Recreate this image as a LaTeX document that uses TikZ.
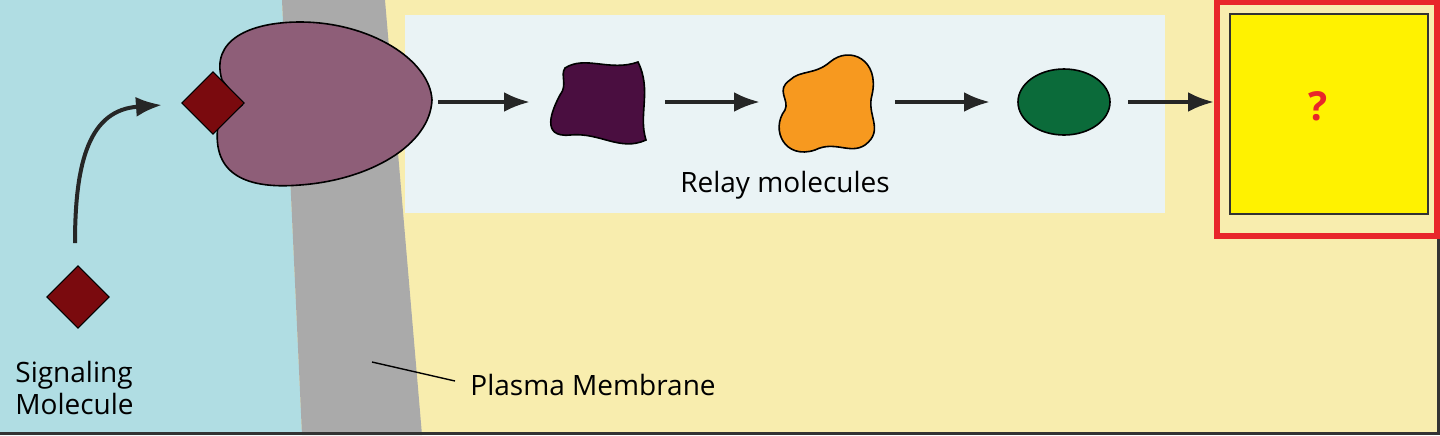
\documentclass[tikz,border=0pt]{standalone}
\usepackage{fontspec}
\setmainfont{Open Sans}
\usetikzlibrary{arrows.meta,shapes.geometric}
\definecolor{outside}{HTML}{B0DDE3}
\definecolor{cyto}{HTML}{F8EDAE}
\definecolor{memb}{HTML}{AAAAAA}
\definecolor{relaybg}{HTML}{EAF3F5}
\definecolor{recep}{HTML}{8E5E78}
\definecolor{sig}{HTML}{7A0A0E}
\definecolor{darkp}{HTML}{4A0E40}
\definecolor{orng}{HTML}{F7991F}
\definecolor{grn}{HTML}{0B6B3A}
\definecolor{qred}{HTML}{E8262A}
\definecolor{qyel}{HTML}{FFF200}
\tikzset{arr/.style={-{Latex[length=13pt,width=10pt]},line width=2pt,black!85},
 lbl/.style={font=\fontsize{14}{16}\selectfont,inner sep=0pt}}
\begin{document}
\begin{tikzpicture}[x=0.5pt,y=-0.5pt]
\useasboundingbox (0,0) rectangle (1440,435);
\fill[cyto] (0,0) rectangle (1440,435);
\fill[outside] (0,0) -- (282,0) -- (302,435) -- (0,435) -- cycle;
\fill[memb] (282,0) -- (385,0) -- (422,435) -- (302,435) -- cycle;
\draw[black!80,line width=1.5pt] (1438,0) -- (1438,433) -- (0,433);
\fill[relaybg] (405,15) rectangle (1165,213);
% receptor
\draw[fill=recep,line width=0.8pt] (222,80) .. controls (210,40) and (250,22) .. (300,22)
 .. controls (370,22) and (430,60) .. (432,100)
 .. controls (430,145) and (370,180) .. (300,185)
 .. controls (240,190) and (212,170) .. (218,125) -- (242,105) -- cycle;
\node[draw=black,line width=0.6pt,fill=sig,minimum size=22pt,rotate=45,inner sep=0pt] (rs) at (213,103) {};
\node[draw=black,line width=0.6pt,fill=sig,minimum size=22pt,rotate=45,inner sep=0pt] (fs) at (78,297) {};
\coordinate (cs) at (75,243); \coordinate (ce) at (162,105);
\draw[arr] (cs) .. controls (75,160) and (90,110) .. (ce);
% relay
\draw[fill=darkp,line width=0.8pt] (565,68) .. controls (585,55) and (610,72) .. (638,62)
 .. controls (652,90) and (638,115) .. (646,140)
 .. controls (620,152) and (600,132) .. (570,135)
 .. controls (540,138) and (552,110) .. (560,95)
 .. controls (568,85) and (560,75) .. cycle;
\draw[fill=orng,line width=0.8pt] (790,80) .. controls (800,70) and (815,75) .. (830,62)
 .. controls (850,45) and (880,60) .. (872,95)
 .. controls (866,115) and (885,130) .. (865,145)
 .. controls (850,155) and (835,140) .. (815,150)
 .. controls (785,160) and (770,130) .. (785,110)
 .. controls (790,100) and (775,90) .. cycle;
\node[draw,line width=0.8pt,fill=grn,ellipse,minimum width=46pt,minimum height=33pt,inner sep=0pt] (g) at (1064,102) {};
\draw[arr] (438,102) -- (530,102);
\draw[arr] (665,102) -- (760,102);
\draw[arr] (895,102) -- (990,102);
\draw[arr] (1128,102) -- (1214,102);
\node[lbl] (rl) at (785,185) {Relay molecules};
% target
\draw[qred,line width=3pt] (1216.5,2) rectangle (1437,236);
\node[draw=black!80,line width=1pt,fill=qyel,minimum width=99pt,minimum height=100pt,inner sep=0pt] (q) at (1329,114) {};
\node[text=qred,font=\bfseries\fontsize{20}{22}\selectfont] at (1318,106) {?};
\node[lbl,align=left,anchor=west] (sm) at (15,388) {Signaling\\Molecule};
\node[lbl,anchor=west] (pm) at (470,385) {Plasma Membrane};
\coordinate (pmp) at (372,362);
\draw[line width=0.7pt] (pmp) -- (455,381);
\end{tikzpicture}
\end{document}
